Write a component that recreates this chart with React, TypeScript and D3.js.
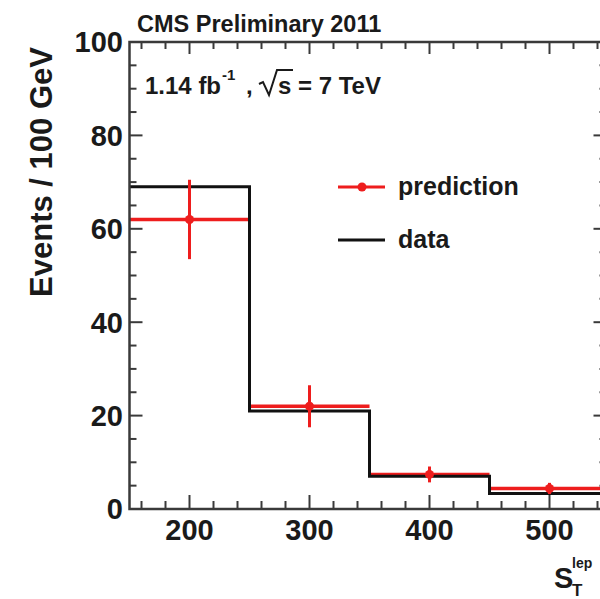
import React from "react";
import * as d3 from "d3";

const binEdges = [150, 250, 350, 450, 550];
const dataCounts = [69, 21, 7, 3.3];
const predCenters = [200, 300, 400, 500];
const predValues = [62, 22, 7.4, 4.4];
const predErrors = [8.5, 4.5, 1.7, 1.2];
const xTicks = [200, 300, 400, 500];
const yTicks = [0, 20, 40, 60, 80, 100];
const legendLabels = ["prediction", "data"];

const W = 600;
const H = 599;
const FONT = "'Liberation Sans', Arial, Helvetica, sans-serif";
const RED = "#ee1d1d";
const BLACK = "#111";
const AXIS = "#3a3a3a";

export default function App() {
  const x = d3.scaleLinear().domain([150, 550]).range([129.5, 609.5]);
  const y = d3.scaleLinear().domain([0, 100]).range([509, 42]);
  const [x0, x1] = x.range();
  const [y0, y1] = [y(0), y(100)];

  const xMinor = d3.range(160, 551, 20);
  const yMinor = d3.range(0, 101, 5);

  const stepPts: [number, number][] = [];
  dataCounts.forEach((c, i) => {
    stepPts.push([x(binEdges[i]), y(c)]);
    stepPts.push([x(binEdges[i + 1]), y(c)]);
  });
  const stepPath = d3.line()(stepPts) || "";

  return (
    <svg
      width={W}
      height={H}
      style={{ position: "absolute", left: 0, top: 0, background: "#fff" }}
      fontFamily={FONT}
    >
      <rect x={0} y={0} width={W} height={H} fill="#fff" />
      {predValues.map((v, i) => (
        <line
          key={"ph" + i}
          x1={x(binEdges[i])}
          x2={x(binEdges[i + 1])}
          y1={y(v)}
          y2={y(v)}
          stroke={RED}
          strokeWidth={3.5}
        />
      ))}
      <path d={stepPath} fill="none" stroke={BLACK} strokeWidth={3} />
      {predCenters.map((c, i) => (
        <g key={"pe" + i}>
          <line
            x1={x(c)}
            x2={x(c)}
            y1={y(predValues[i] - predErrors[i])}
            y2={y(predValues[i] + predErrors[i])}
            stroke={RED}
            strokeWidth={3}
          />
          <circle cx={x(c)} cy={y(predValues[i])} r={4.5} fill={RED} />
        </g>
      ))}

      <rect
        x={x0}
        y={y1}
        width={x1 - x0}
        height={y0 - y1}
        fill="none"
        stroke={AXIS}
        strokeWidth={2.5}
      />
      {xMinor.map((t) => {
        const major = t % 100 === 0;
        const len = major ? 14 : 8;
        const lenTop = major ? 12 : 7;
        return (
          <g key={"xt" + t} stroke={AXIS} strokeWidth={2}>
            <line x1={x(t)} x2={x(t)} y1={y0} y2={y0 - len} />
            <line x1={x(t)} x2={x(t)} y1={y1} y2={y1 + lenTop} />
          </g>
        );
      })}
      {yMinor.map((t) => {
        const major = t % 20 === 0;
        const len = major ? 13 : 7;
        return (
          <g key={"yt" + t} stroke={AXIS} strokeWidth={2}>
            <line x1={x0} x2={x0 + len} y1={y(t)} y2={y(t)} />
            <line x1={x1} x2={x1 - (major ? 16 : 10)} y1={y(t)} y2={y(t)} />
          </g>
        );
      })}
      {xTicks.map((t) => (
        <text
          key={"xl" + t}
          x={x(t)}
          y={540}
          textAnchor="middle"
          fontSize={29}
          fontWeight="bold"
          fill="#1a1a1a"
        >
          {t}
        </text>
      ))}
      {yTicks.map((t) => (
        <text
          key={"yl" + t}
          x={123}
          y={y(t)}
          dy="0.36em"
          textAnchor="end"
          fontSize={29}
          fontWeight="bold"
          fill="#1a1a1a"
        >
          {t}
        </text>
      ))}
      <text
        transform={`translate(52,172) rotate(-90)`}
        textAnchor="middle"
        fontSize={31}
        fontWeight="bold"
        fill="#1a1a1a"
      >
        Events / 100 GeV
      </text>
      <text x={554} y={588} fontSize={29} fontWeight="bold" fill="#1a1a1a">
        S
      </text>
      <text x={572} y={568} fontSize={14} fontWeight="bold" fill="#1a1a1a">
        lep
      </text>
      <text x={572} y={596} fontSize={17} fontWeight="bold" fill="#1a1a1a">
        T
      </text>
      <text x={137} y={32} fontSize={23.5} fontWeight="bold" fill="#1a1a1a">
        CMS Preliminary 2011
      </text>
      <g fontWeight="bold" fill="#1a1a1a">
        <text x={145} y={94} fontSize={24}>
          1.14 fb
        </text>
        <text x={222} y={80} fontSize={15}>
          -1
        </text>
        <text x={246} y={94} fontSize={24}>
          ,
        </text>
        <path
          d="M259,84 L263,82 L269,95 L277,70 L293,70"
          fill="none"
          stroke="#1a1a1a"
          strokeWidth={2}
        />
        <text x={278} y={94} fontSize={24}>
          s = 7 TeV
        </text>
      </g>
      <line x1={338} x2={385} y1={187} y2={187} stroke={RED} strokeWidth={3} />
      <circle cx={362} cy={187} r={4.5} fill={RED} />
      <text x={398} y={195} fontSize={25} fontWeight="bold" fill="#1a1a1a">
        {legendLabels[0]}
      </text>
      <line x1={338} x2={385} y1={240} y2={240} stroke={BLACK} strokeWidth={3} />
      <text x={398} y={248} fontSize={25} fontWeight="bold" fill="#1a1a1a">
        {legendLabels[1]}
      </text>
    </svg>
  );
}
